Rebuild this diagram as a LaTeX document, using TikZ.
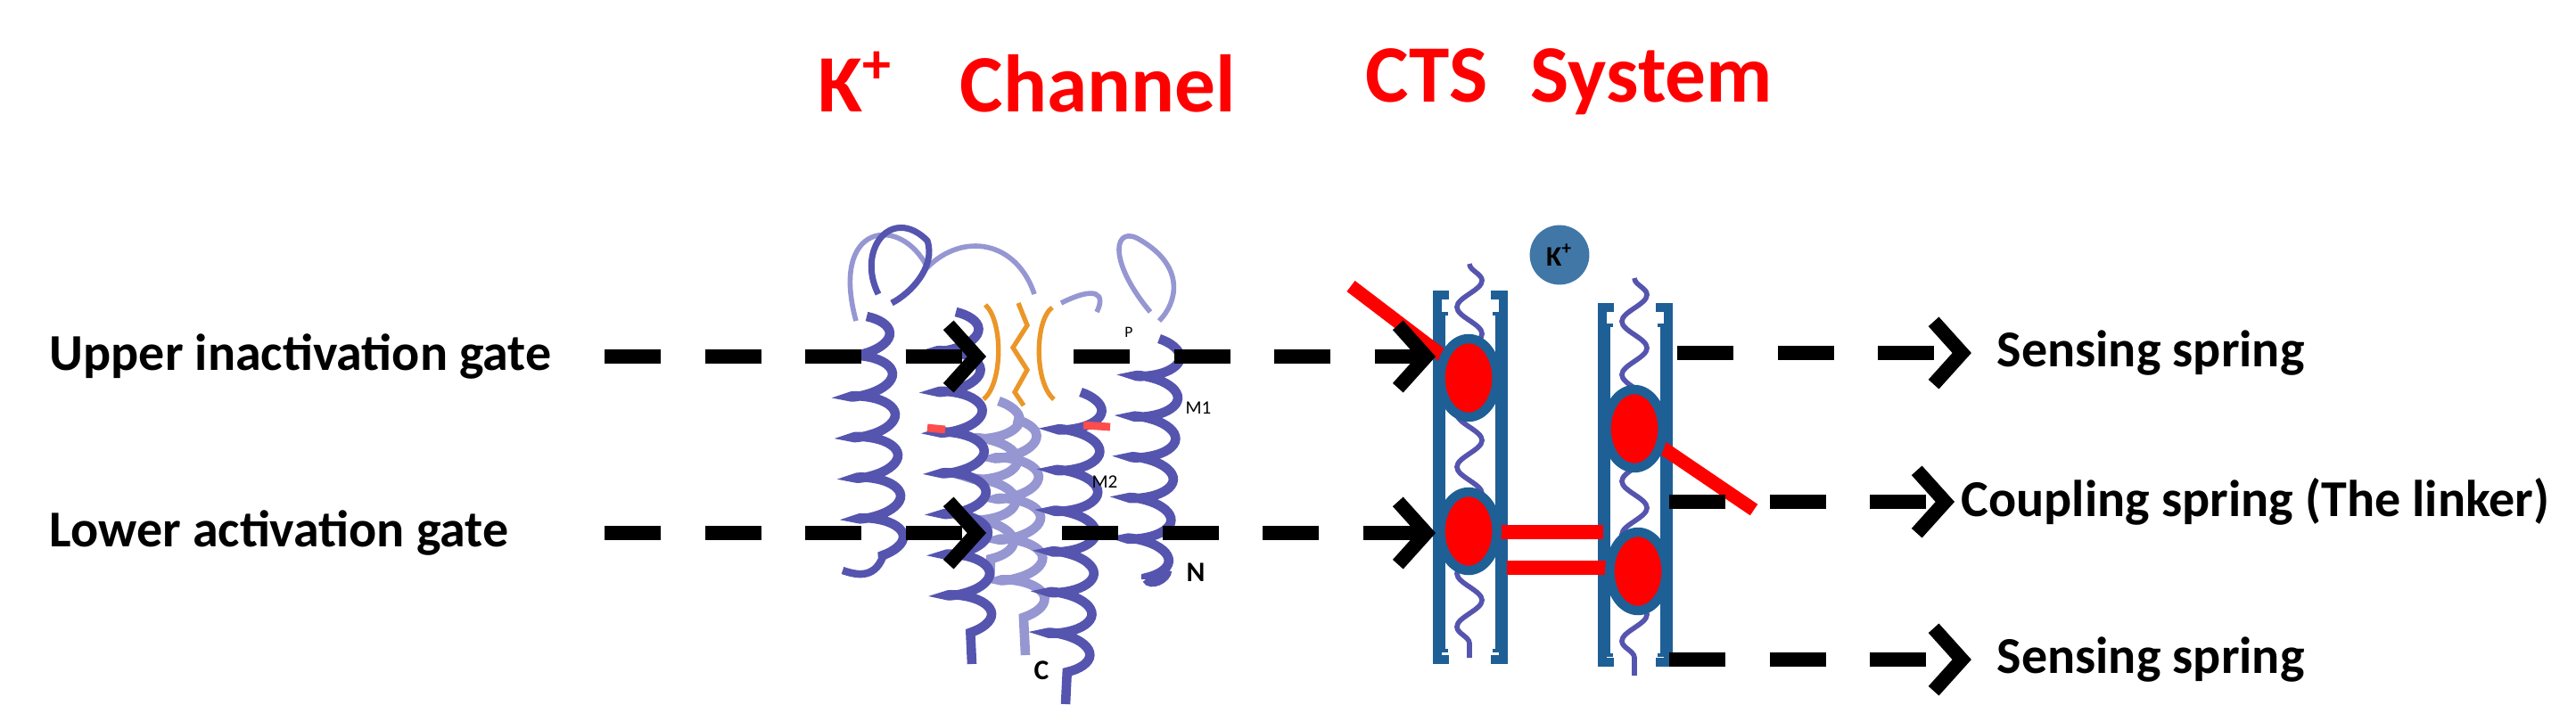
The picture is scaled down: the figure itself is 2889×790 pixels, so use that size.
\documentclass[tikz,border=0pt]{standalone}
\usepackage{fontspec}
\setmainfont{Carlito}
\usetikzlibrary{arrows.meta,decorations.pathmorphing,shapes.geometric}
\definecolor{kblue}{RGB}{30,95,150}
\definecolor{kpurp}{RGB}{85,85,175}
\definecolor{kpale}{RGB}{150,150,210}
\definecolor{korange}{RGB}{235,150,40}
\begin{document}
\begin{tikzpicture}[x=0.01cm,y=-0.01cm,
  lbl/.style={font=\bfseries\fontsize{16.5}{18}\selectfont,anchor=west,inner sep=0pt},
  ttl/.style={font=\bfseries\fontsize{26}{30}\selectfont,text=red,inner sep=0pt},
  dsh/.style={line width=4.8pt,dash pattern=on 18pt off 14pt,-{Straight Barb[length=9pt,width=20pt,line width=4.5pt]}},
  helix/.style={kpurp,line width=3pt,decorate,decoration={coil,aspect=0.35,segment length=13pt,amplitude=7pt}},
  phelix/.style={helix,kpale},
  spr/.style={kpurp,line width=1.6pt,decorate,decoration={snake,segment length=17pt,amplitude=4pt}},
  brk/.style={kblue,line width=2.9pt},
  ibrk/.style={kblue,line width=1pt},
  ball/.style={ellipse,fill=red,draw=kblue,line width=3pt,minimum width=18pt,inner sep=0pt},
  redbar/.style={red,line width=4.3pt}]
\useasboundingbox (0,0) rectangle (2889,790);
% titles
\node[ttl] (t1) at (1152,92) {K\textsuperscript{+}\hspace{0.6em} Channel};
\node[ttl] (t2) at (1760,92) {CTS\hspace{0.3em} System};
% protein
\draw[kpale,line width=1.6pt] (960,360) .. controls (930,250) and (1010,240) .. (1040,300) .. controls (1080,260) and (1140,270) .. (1160,330);
\draw[kpurp,line width=2pt] (985,330) .. controls (960,280) and (1000,230) .. (1040,270) .. controls (1050,300) and (1020,330) .. (1000,340);
\draw[kpale,line width=1.6pt] (1290,350) .. controls (1240,290) and (1250,250) .. (1280,270) .. controls (1330,300) and (1320,340) .. (1300,360);
\draw[kpale,line width=1.6pt] (1190,340) .. controls (1230,320) and (1240,330) .. (1230,350);
\draw[phelix] (1137,470) -- (1150,735);
\draw[phelix] (1120,450) -- (1110,650);
\draw[helix] (972,355) -- (990,625);
\draw[helix] (1072,350) -- (1090,745);
\draw[helix] (1212,440) -- (1195,790);
\draw[helix] (1300,380) -- (1285,650);
\draw[kpurp,line width=2.4pt] (990,625) .. controls (980,650) and (960,645) .. (945,640);
\draw[kpurp,line width=2.4pt] (1285,650) .. controls (1290,660) and (1310,650) .. (1310,640);
\draw[korange,line width=1.5pt] (1105,342) .. controls (1125,360) and (1125,430) .. (1103,448);
\draw[korange,line width=1.5pt] (1180,345) .. controls (1160,360) and (1160,430) .. (1182,448);
\draw[korange,line width=1.5pt] (1142,340) -- (1152,365) -- (1136,390) -- (1152,415) -- (1138,440) -- (1148,455);
\draw[red!70,line width=2.5pt] (1040,480) -- (1060,482);
\draw[red!70,line width=2.5pt] (1215,477) -- (1245,479);
\node[font=\fontsize{6}{7}\selectfont] (m1) at (1344,458) {M1};
\node[font=\fontsize{6}{7}\selectfont] (m2) at (1239,541) {M2};
\node[font=\bfseries\fontsize{9}{10}\selectfont] (nn) at (1341,642) {N};
\node[font=\bfseries\fontsize{9}{10}\selectfont] (cc) at (1168,752) {C};
\node[font=\fontsize{5}{6}\selectfont] (pp) at (1266,373) {P};
% CTS columns
\draw[spr] (1648,296) -- (1648,738);
\draw[spr] (1833,312) -- (1833,758);
\draw[brk] (1625,331) -- (1612,331) -- (1612,740) -- (1625,740);
\draw[brk] (1672,331) -- (1686,331) -- (1686,740) -- (1672,740);
\draw[ibrk] (1624,352) -- (1619,352) -- (1619,730) -- (1624,730);
\draw[ibrk] (1674,352) -- (1679,352) -- (1679,730) -- (1674,730);
\draw[brk] (1810,345) -- (1797,345) -- (1797,743) -- (1810,743);
\draw[brk] (1857,345) -- (1871,345) -- (1871,743) -- (1857,743);
\draw[ibrk] (1809,365) -- (1804,365) -- (1804,735) -- (1809,735);
\draw[ibrk] (1859,365) -- (1864,365) -- (1864,735) -- (1859,735);
\node[circle,fill=kblue!85,inner sep=0pt,minimum size=19pt,font=\bfseries\fontsize{9}{10}\selectfont] (kion) at (1749,286) {K\textsuperscript{+}};
% red bars and balls
\coordinate (lb1) at (1515,321);
\coordinate (rb1) at (1967,572);
\coordinate (bar1) at (1798,597);
\coordinate (bar2) at (1690,637);
\draw[redbar] (lb1) -- (1645,420);
\draw[redbar] (1833,481) -- (rb1);
\draw[redbar] (1650,597) -- (bar1);
\draw[redbar] (bar2) -- (1835,637);
\node[ball,minimum height=25pt] (b1) at (1647,424) {};
\node[ball,minimum height=25pt] (b2) at (1647,596) {};
\node[ball,minimum height=25pt] (b3) at (1833,481) {};
\node[ball,minimum height=25pt] (b4) at (1837,641) {};
% labels
\node[lbl] (u) at (55,400) {Upper inactivation gate};
\node[lbl] (l) at (55,598) {Lower activation gate};
\node[lbl] (s1) at (2239,396) {Sensing spring};
\node[lbl] (cp) at (2199,563) {Coupling spring (The linker)};
\node[lbl] (s2) at (2239,740) {Sensing spring};
% dashed arrows
\coordinate (ua) at (1106,400);
\coordinate (la) at (1106,598);
\coordinate (ub) at (1204,400);
\coordinate (lbs) at (1191,598);
\coordinate (r1) at (1881,396);
\coordinate (r2) at (1872,563);
\coordinate (r3) at (1872,740);
\draw[dsh] (678,400) -- (ua);
\draw[dsh] (678,598) -- (la);
\draw[dsh] (ub) -- (ub -| b1.west);
\draw[dsh] (lbs) -- (lbs -| b2.west);
\draw[dsh,shorten >=8pt] (r1) -- (r1 -| s1.west);
\draw[dsh,shorten >=2pt] (r2) -- (r2 -| cp.west);
\draw[dsh,shorten >=8pt] (r3) -- (r3 -| s2.west);
\end{tikzpicture}
\end{document}
